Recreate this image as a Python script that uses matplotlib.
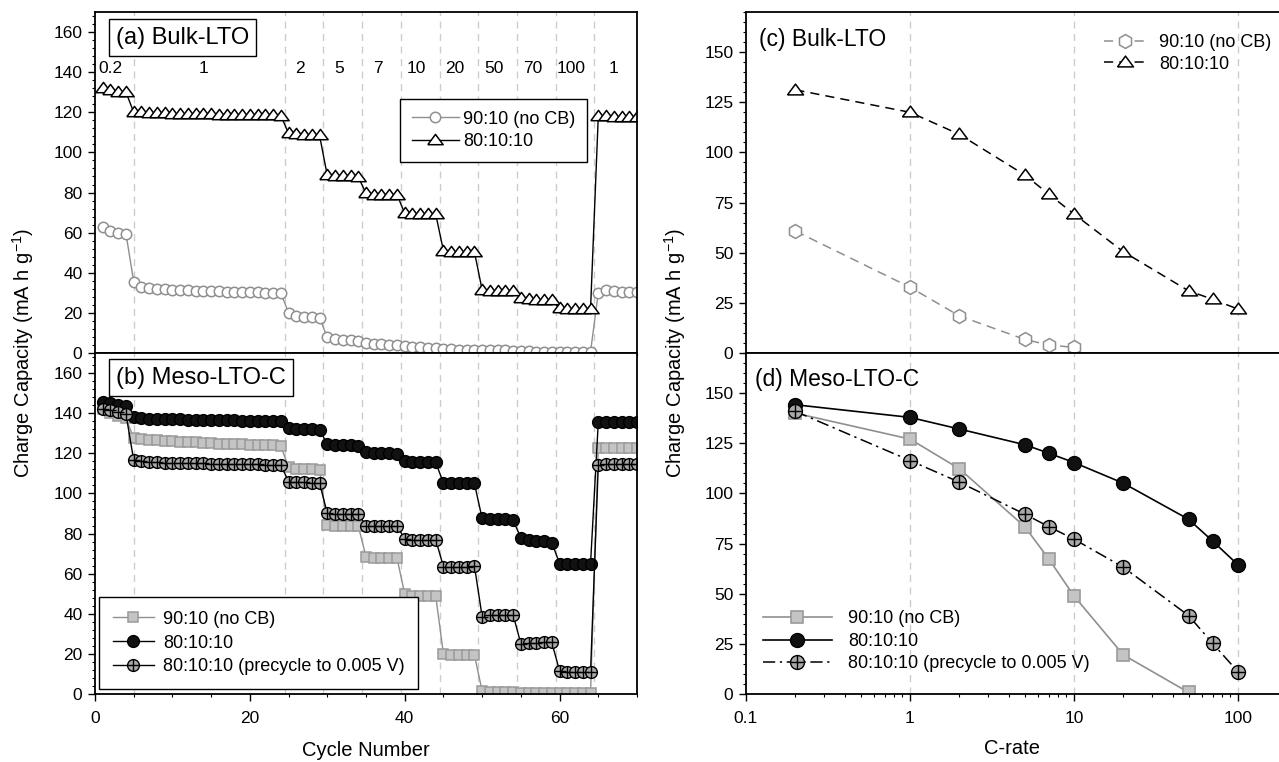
import numpy as np
import matplotlib.pyplot as plt
from matplotlib.ticker import MultipleLocator, FixedLocator, LogLocator, NullFormatter

plt.rcParams['font.family'] = ['Liberation Sans', 'DejaVu Sans']
plt.rcParams['mathtext.default'] = 'regular'

# --- dados: capacidade por ciclo (mA h/g) ---
ciclos = np.arange(1, 71)
taxas_txt = ['0.2', '1', '2', '5', '7', '10', '20', '50', '70', '100', '1']
n_ciclos_taxa = [4, 20, 5, 5, 5, 5, 5, 5, 5, 5, 6]
divisorias = [5, 24.5, 29.5, 34.5, 39.5, 44.5, 49.5, 54.5, 59.5, 64.5]

# (a) Bulk-LTO
bulk_90 = ([63, 61, 60, 59.5] +
           [35.5, 33, 32.3, 32, 31.8, 31.5, 31.3, 31.2, 31, 30.9, 30.8, 30.7, 30.6, 30.5, 30.4,
            30.3, 30.2, 30.1, 30, 29.9] +
           [20, 18.5, 18, 17.8, 17.6] + [7.8, 6.8, 6.5, 6.3, 6.2] + [4.8, 4.5, 4.3, 4.2, 4.1] +
           [3.3, 3, 2.8, 2.7, 2.6] + [2, 1.8, 1.7, 1.6, 1.6] + [1.5, 1.4, 1.3, 1.3, 1.2] +
           [0.8, 0.8, 0.7, 0.7, 0.7] + [0.6, 0.6, 0.6, 0.6, 0.6] + [30, 31.5, 31, 30.5, 30.5, 30.5])
bulk_80 = ([132, 131, 130, 130] +
           [120, 120, 119.5, 119.5, 119.4, 119.3, 119.2, 119.1, 119, 119, 119, 118.9, 118.8, 118.7,
            118.7, 118.6, 118.6, 118.5, 118.5, 118.4] +
           [109.5, 109, 108.5, 108.5, 108.5] + [88.5, 88, 88, 88, 87.8] + [79.6, 79, 79, 79, 79] +
           [69.6, 69.3, 69.3, 69.3, 69.3] + [51, 50.5, 50.5, 50.5, 50.5] + [31.4, 31, 31, 31, 31] +
           [27.3, 26.8, 26.5, 26.5, 26.2] + [22.3, 22, 22, 22, 22] + [118, 118, 117.5, 117.5, 117.5, 117.5])

# (b) Meso-LTO-C
meso_90 = ([142, 140, 138.5, 137.5] +
           [127.5, 127, 126.8, 126.5, 126.2, 126, 125.8, 125.6, 125.4, 125.2, 125, 124.8, 124.7,
            124.6, 124.4, 124.3, 124.2, 124, 123.9, 123.7] +
           [113, 112, 112, 112, 111.8] + [84.5, 84, 84, 84, 83.8] + [68.5, 68, 68, 68, 67.8] +
           [50, 49, 49, 49, 49] + [20, 19.5, 19.5, 19.5, 19.5] + [1.5, 1.2, 1.2, 1.2, 1.2] +
           [0.3, 0.3, 0.3, 0.3, 0.3] + [0.3, 0.3, 0.3, 0.3, 0.3] + [122.5, 122.5, 122.5, 122.5, 122.5, 122.5])
meso_80 = ([145.5, 145, 144, 143.5] +
           [138, 137.5, 137.3, 137.2, 137, 137, 136.9, 136.8, 136.8, 136.7, 136.6, 136.5, 136.5,
            136.4, 136.3, 136.3, 136.2, 136.1, 136, 136] +
           [132.5, 132, 132, 132, 131.8] + [124.5, 124, 124, 124, 123.8] + [120.5, 120, 120, 120, 119.8] +
           [116, 115.5, 115.5, 115.5, 115.5] + [105.2, 105, 105, 105, 105] + [87.5, 87, 87, 87, 86.5] +
           [78, 77, 76.5, 76.5, 75.5] + [65, 65, 65, 65, 65] + [135.5, 135.5, 135.5, 135.5, 135.5, 135.5])
meso_pre = ([142, 141.5, 140.5, 139.5] +
            [116.5, 116, 115.8, 115.6, 115.4, 115.3, 115.2, 115.1, 115, 115, 114.9, 114.8, 114.8,
             114.7, 114.6, 114.6, 114.5, 114.4, 114.4, 114.3] +
            [105.8, 105.5, 105.5, 105.3, 105.2] + [90, 89.8, 89.8, 89.8, 89.8] + [84, 83.8, 83.8, 83.8, 83.7] +
            [77.5, 77, 77, 77, 77] + [63.5, 63.5, 63.5, 63.5, 64] + [38.5, 39.2, 39.4, 39.5, 39.5] +
            [25, 25.5, 25.6, 25.7, 25.7] + [11.5, 11.2, 11, 11, 11] + [114, 114.5, 114.5, 114.5, 114.5, 114.5])

# (c) e (d): capacidade vs taxa
c_rate = [0.2, 1, 2, 5, 7, 10, 20, 50, 70, 100]
rate_bulk_90 = [60.8, 32.8, 18.5, 6.8, 4.0, 2.8]
rate_bulk_80 = [131.2, 120, 109, 88.8, 79.3, 69.3, 50.5, 31, 26.8, 21.9]
rate_meso_90 = [140, 127.1, 112.3, 83.5, 67.5, 48.9, 19.5, 0.8]
rate_meso_80 = [144.2, 137.9, 132.1, 124.3, 120.1, 115.4, 105.1, 87.1, 76.3, 64.4]
rate_meso_pre = [140.9, 116.4, 105.6, 89.7, 83.5, 77.2, 63.2, 39.1, 25.3, 11.1]

# cores
cinza_linha = '#8f8f8f'
cinza_quad = '#c4c4c4'
cinza_plus = '#a9a9a9'
grade = '#cccccc'

tri = [(-1, -0.55), (1, -0.55), (0, 0.8), (-1, -0.55)]  # triangulo achatado

fig = plt.figure(figsize=(12.79, 7.62), dpi=100)
W, H = 1279.0, 762.0
ax_a = fig.add_axes([95 / W, 1 - 353 / H, 542 / W, 341 / H])
ax_b = fig.add_axes([95 / W, 1 - 694 / H, 542 / W, 341 / H])
ax_c = fig.add_axes([746 / W, 1 - 353 / H, 533 / W, 341 / H])
ax_d = fig.add_axes([746 / W, 1 - 694 / H, 533 / W, 341 / H])

# ----- paineis da esquerda -----
for ax in (ax_a, ax_b):
    for xv in divisorias:
        ax.axvline(xv, color=grade, lw=1, ls=(0, (5, 4)), zorder=0)
    ax.set_xlim(0, 70)
    ax.set_ylim(0, 170)
    ax.xaxis.set_major_locator(MultipleLocator(20))
    ax.xaxis.set_minor_locator(MultipleLocator(5))
    ax.yaxis.set_major_locator(MultipleLocator(20))
    ax.yaxis.set_minor_locator(MultipleLocator(4))

l1, = ax_a.plot(ciclos, bulk_90, color=cinza_linha, lw=1, marker='o', ms=7.5,
                mfc='white', mec=cinza_linha, mew=1.1, label='90:10 (no CB)')
l2, = ax_a.plot(ciclos, bulk_80, color='black', lw=1, marker=tri, ms=11,
                mfc='white', mec='black', mew=1.1, label='80:10:10')
leg_a = ax_a.legend(handles=[l1, l2], loc='upper right', bbox_to_anchor=(0.908, 0.745),
                    fontsize=13, frameon=True, fancybox=False, edgecolor='black',
                    framealpha=1, handlelength=2.6, handletextpad=0.25, labelspacing=0.3,
                    borderpad=0.65, borderaxespad=0)
leg_a.get_frame().set_linewidth(1)

# rotulos de taxa no topo do painel (a)
ini = 1
for txt, n in zip(taxas_txt, n_ciclos_taxa):
    xc = np.mean(ciclos[ini - 1:ini - 1 + n]) - 0.5
    ax_a.text(xc, 142, txt, ha='center', va='center', fontsize=12.5)
    ini += n

m1, = ax_b.plot(ciclos, meso_90, color=cinza_linha, lw=1, marker='s', ms=7,
                mfc=cinza_quad, mec='#9a9a9a', mew=1.1, label='90:10 (no CB)')
m2, = ax_b.plot(ciclos, meso_80, color='black', lw=1, marker='o', ms=8.5,
                mfc='#111111', mec='black', mew=1, label='80:10:10')
m3, = ax_b.plot(ciclos, meso_pre, color='black', lw=1, marker='o', ms=8.5,
                mfc=cinza_plus, mec='black', mew=1)
m3p, = ax_b.plot(ciclos, meso_pre, ls='none', marker='+', ms=8.5, mec='black', mew=1)
leg_b = ax_b.legend(handles=[m1, m2, (m3, m3p)],
                    labels=['90:10 (no CB)', '80:10:10', '80:10:10 (precycle to 0.005 V)'],
                    loc='lower left', bbox_to_anchor=(0.0074, 0.0147), fontsize=13,
                    frameon=True, fancybox=False, edgecolor='black', framealpha=1,
                    handlelength=2.3, handletextpad=0.5, labelspacing=0.38,
                    borderpad=0.75, borderaxespad=0)
leg_b.get_frame().set_linewidth(1)

ax_a.text(0.0387, 0.925, '(a) Bulk-LTO', transform=ax_a.transAxes, fontsize=17,
          va='center', ha='left',
          bbox=dict(boxstyle='square,pad=0.3', fc='white', ec='black', lw=1))
ax_b.text(0.0387, 0.928, '(b) Meso-LTO-C', transform=ax_b.transAxes, fontsize=17,
          va='center', ha='left',
          bbox=dict(boxstyle='square,pad=0.3', fc='white', ec='black', lw=1))

# ----- paineis da direita -----
for ax in (ax_c, ax_d):
    for xv in [1, 10, 100]:
        ax.axvline(xv, color=grade, lw=1, ls=(0, (5, 4)), zorder=0)
    ax.set_xscale('log')
    ax.set_xlim(0.1, 178)
    ax.set_ylim(0, 170)
    ax.xaxis.set_major_locator(FixedLocator([0.1, 1, 10, 100]))
    ax.xaxis.set_minor_locator(LogLocator(base=10, subs=np.arange(2, 10), numticks=20))
    ax.xaxis.set_minor_formatter(NullFormatter())
    ax.yaxis.set_major_locator(MultipleLocator(25))
    ax.yaxis.set_minor_locator(MultipleLocator(5))
    ax.spines['right'].set_visible(False)

ax_d.set_xticklabels(['0.1', '1', '10', '100'])

r1, = ax_c.plot(c_rate[:len(rate_bulk_90)], rate_bulk_90, color=cinza_linha, lw=1.1,
                ls=(0, (6, 4)), marker='h', ms=10, mfc='white', mec=cinza_linha, mew=1.1,
                label='90:10 (no CB)')
r2, = ax_c.plot(c_rate, rate_bulk_80, color='black', lw=1.1, ls=(0, (6, 4)), marker=tri,
                ms=11.5, mfc='white', mec='black', mew=1.1, label='80:10:10')
ax_c.legend(handles=[r1, r2], loc='upper left', bbox_to_anchor=(0.672, 0.935), fontsize=13,
            frameon=False, handlelength=2.3, handletextpad=0.75, labelspacing=0.25,
            borderpad=0, borderaxespad=0)
ax_c.text(0.024, 0.918, '(c) Bulk-LTO', transform=ax_c.transAxes, fontsize=16.5,
          va='center', ha='left')

d1, = ax_d.plot(c_rate[:len(rate_meso_90)], rate_meso_90, color=cinza_linha, lw=1.2,
                marker='s', ms=8, mfc=cinza_quad, mec='#9a9a9a', mew=1.2)
d2, = ax_d.plot(c_rate, rate_meso_80, color='black', lw=1.2, marker='o', ms=10,
                mfc='#111111', mec='black')
d3, = ax_d.plot(c_rate, rate_meso_pre, color='black', lw=1.1, ls=(0, (8, 3, 1.5, 3)),
                marker='o', ms=10, mfc=cinza_plus, mec='black', mew=1)
d3p, = ax_d.plot(c_rate, rate_meso_pre, ls='none', marker='+', ms=10, mec='black', mew=1)
ax_d.legend(handles=[d1, d2, (d3, d3p)],
            labels=['90:10 (no CB)', '80:10:10', '80:10:10 (precycle to 0.005 V)'],
            loc='upper left', bbox_to_anchor=(0.032, 0.245), fontsize=13, frameon=False,
            handlelength=3.8, handletextpad=0.9, labelspacing=0.3,
            borderpad=0, borderaxespad=0)
ax_d.text(0.017, 0.921, '(d) Meso-LTO-C', transform=ax_d.transAxes, fontsize=16.5,
          va='center', ha='left')

# ----- ticks e rotulos -----
for ax in (ax_a, ax_b, ax_c, ax_d):
    ax.tick_params(which='major', direction='out', length=5, width=1, labelsize=12.5, pad=4)
    ax.tick_params(which='minor', direction='out', length=2.5, width=0.8)
    for s in ax.spines.values():
        s.set_linewidth(1.3)
for ax in (ax_a, ax_c):
    ax.tick_params(labelbottom=False)
ax_b.tick_params(axis='x', pad=7)
ax_d.tick_params(axis='x', pad=7)

ylab = 'Charge Capacity (mA h g$^{-1}$)'
fig.text(23 / W, 1 - 353 / H, ylab, rotation=90, ha='center', va='center', fontsize=14.5)
fig.text(675 / W, 1 - 353 / H, ylab, rotation=90, ha='center', va='center', fontsize=14.5)
fig.text(366 / W, 1 - 750 / H, 'Cycle Number', ha='center', va='center', fontsize=14.5)
fig.text(1012 / W, 1 - 748 / H, 'C-rate', ha='center', va='center', fontsize=14.5)

fig.savefig('out.png', dpi=100)
